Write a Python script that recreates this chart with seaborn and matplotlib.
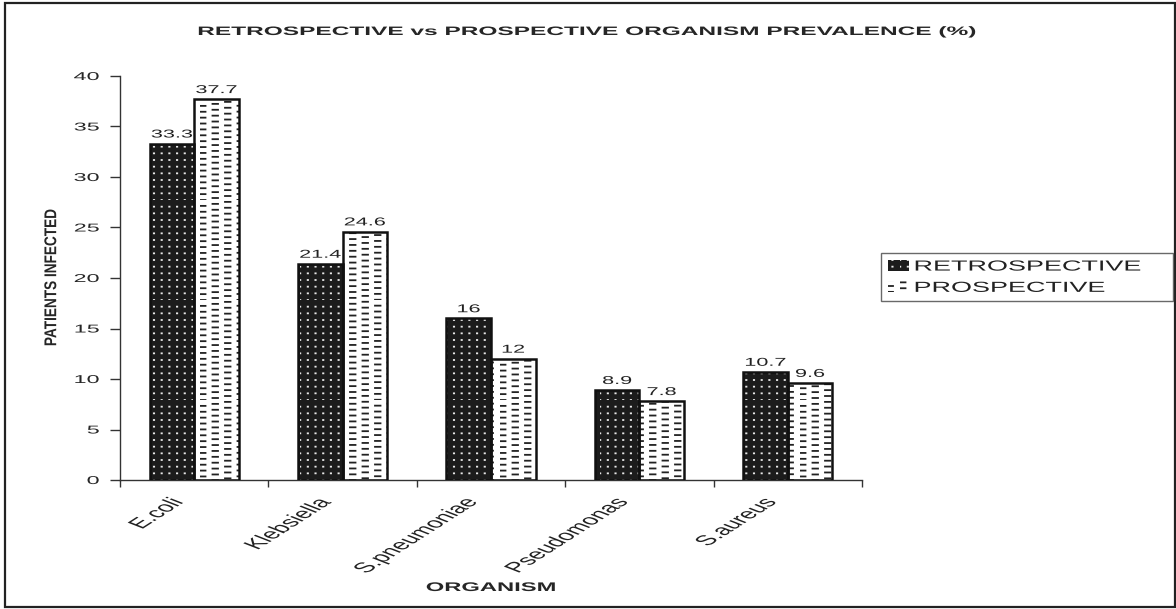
import matplotlib
matplotlib.use("Agg")
import matplotlib.pyplot as plt
import matplotlib.hatch as mhatch
from matplotlib.patches import Rectangle, Patch
from matplotlib.patheffects import AbstractPathEffect
from matplotlib.transforms import Affine2D, ScaledTranslation, blended_transform_factory
from matplotlib.path import Path
import numpy as np
import seaborn as sns
import pandas as pd
import warnings

warnings.filterwarnings("ignore")

organisms = ["E.coli", "Klebsiella", "S.pneumoniae", "Pseudomonas", "S.aureus"]
retrospective = [33.3, 21.4, 16, 8.9, 10.7]
prospective = [37.7, 24.6, 12, 7.8, 9.6]
series_names = ["RETROSPECTIVE", "PROSPECTIVE"]
y_ticks = [0, 5, 10, 15, 20, 25, 30, 35, 40]


# ---- custom hatch patterns: 'p' = grid of small dots, 'd' = staggered short dashes
class _SegmentGrid(mhatch.HatchPatternBase):
    char = None
    ncols = 1
    nrows = 1
    seg = 0.01
    stagger = 0.0

    def __init__(self, hatch, density):
        self.active = self.char in hatch
        self.num_vertices = 2 * self.ncols * self.nrows if self.active else 0

    def set_vertices_and_codes(self, vertices, codes):
        k = 0
        for c in range(self.ncols):
            for r in range(self.nrows):
                x = c / self.ncols
                y = ((r + self.stagger * c) % self.nrows) / self.nrows
                vertices[k] = (x, y)
                vertices[k + 1] = (x + self.seg, y)
                codes[k] = Path.MOVETO
                codes[k + 1] = Path.LINETO
                k += 2


class DotGrid(_SegmentGrid):
    char = "p"
    ncols = 13
    nrows = 15
    seg = 0.003
    stagger = 0.0


class DashGrid(_SegmentGrid):
    char = "d"
    ncols = 8
    nrows = 17
    seg = 0.055
    stagger = 0.34


mhatch._hatch_types.append(DotGrid)
mhatch._hatch_types.append(DashGrid)


# ---- path effect that stretches text horizontally (wide lettering of the reference)
class Stretch(AbstractPathEffect):
    def __init__(self, sx=2.0, sy=1.0, fx=0.5, fy=0.0):
        super().__init__()
        self.sx, self.sy, self.fx, self.fy = sx, sy, fx, fy

    def draw_path(self, renderer, gc, tpath, affine, rgbFace=None):
        ext = tpath.get_extents()
        lx = ext.x0 + self.fx * ext.width
        ly = ext.y0 + self.fy * ext.height
        ax_, ay_ = affine.transform((lx, ly))
        new = affine + Affine2D().translate(-ax_, -ay_).scale(self.sx, self.sy).translate(ax_, ay_)
        renderer.draw_path(gc, tpath, new, rgbFace)


sns.set_theme(style="white")
plt.rcParams["font.family"] = ["Liberation Sans", "DejaVu Sans"]
plt.rcParams["hatch.linewidth"] = 1.3

df = pd.DataFrame({
    "organism": organisms * 2,
    "value": retrospective + prospective,
    "series": [series_names[0]] * len(organisms) + [series_names[1]] * len(organisms),
})

fig = plt.figure(figsize=(11.76, 6.09), dpi=100)
ax = fig.add_axes([120 / 1176, 1 - 480 / 609, (862 - 120) / 1176, (480 - 76) / 609])

sns.barplot(data=df, x="organism", y="value", hue="series", ax=ax,
            palette=["#1c1c1c", "#ffffff"], width=0.6, legend=False,
            saturation=1)

styles = {0: ("#1c1c1c", "#e8e8e8", "p"), 1: ("#ffffff", "#222222", "d")}
for i, cont in enumerate(ax.containers):
    face, hcol, hatch = styles[i]
    for p in cont:
        p.set_facecolor(face)
        p.set_edgecolor(hcol)
        p.set_hatch(hatch)
        p.set_linewidth(0)
        ax.add_patch(Rectangle(p.get_xy(), p.get_width(), p.get_height(),
                               fill=False, edgecolor="#111111", linewidth=1.8, zorder=3))
    texts = ax.bar_label(cont, labels=[f"{v:g}" for v in (retrospective if i == 0 else prospective)],
                         fontsize=8.2, padding=3, color="#222222")
    for t in texts:
        t.set_path_effects([Stretch(1.9, 1.0, 0.5, 0.0)])

ax.set_ylim(0, 40)
ax.set_yticks(y_ticks)
ax.set_yticklabels([str(t) for t in y_ticks], fontsize=8.2)
ax.set_xlim(-0.5, len(organisms) - 0.5)
ax.set_xticks(range(len(organisms)))
ax.set_xticklabels([""] * len(organisms))
ax.tick_params(axis="x", length=0)
ax.set_xticks([x - 0.5 for x in range(len(organisms) + 1)], minor=True)
ax.tick_params(axis="x", which="minor", length=5, width=1, color="#333333", direction="out", bottom=True)
ax.tick_params(axis="y", length=7, width=1, color="#333333", direction="out", left=True, pad=8)

for t in ax.get_yticklabels():
    t.set_path_effects([Stretch(2.05, 1.0, 1.0, 0.0)])

# category labels (rotated, wide lettering) placed at the category positions
lab_tr = blended_transform_factory(ax.transData, ax.transAxes) + \
    ScaledTranslation(-8 / 100, -24 / 100, fig.dpi_scale_trans)
for i, name in enumerate(organisms):
    t = ax.text(i, 0, name, transform=lab_tr, rotation=52, ha="right", va="bottom",
                rotation_mode="anchor", fontsize=10.2, color="#222222")
    t.set_path_effects([Stretch(2.0, 1.0, 1.0, 0.0)])

for s in ["top", "right"]:
    ax.spines[s].set_visible(False)
for s in ["left", "bottom"]:
    ax.spines[s].set_color("#333333")
    ax.spines[s].set_linewidth(1)

xl = ax.set_xlabel("ORGANISM", fontsize=9, fontweight="bold")
ax.xaxis.set_label_coords(0.5, -(591 - 480) / 404)
xl.set_va("baseline")
xl.set_path_effects([Stretch(1.9, 1.0, 0.5, 0.0)])

yl = ax.set_ylabel("PATIENTS INFECTED", fontsize=9.8, fontweight="bold")
ax.yaxis.set_label_coords(-(120 - 58) / 742, 0.5)
yl.set_path_effects([Stretch(1.25, 1.0, 0.5, 0.5)])

title = fig.text(0.5, 1 - 35 / 609, "RETROSPECTIVE vs PROSPECTIVE ORGANISM PREVALENCE (%)",
                 ha="center", va="baseline", fontsize=8.8, fontweight="bold")
title.set_path_effects([Stretch(2.0, 1.0, 0.5, 0.0)])

handles = [Patch(facecolor="#1c1c1c", edgecolor="#e8e8e8", hatch="p", linewidth=0),
           Patch(facecolor="white", edgecolor="#222222", hatch="d", linewidth=0)]
leg = fig.legend(handles, series_names, loc="upper left",
                 bbox_to_anchor=(881 / 1176, 1 - 303 / 609, (1173 - 881) / 1176, 50 / 609),
                 mode="expand", fontsize=10.5,
                 frameon=True, fancybox=False, handlelength=1.45, handleheight=0.8,
                 handletextpad=0.4, borderpad=0.45, labelspacing=0.5,
                 borderaxespad=0)
leg.get_frame().set_edgecolor("#444444")
leg.get_frame().set_linewidth(1)
for t in leg.get_texts():
    t.set_path_effects([Stretch(1.85, 1.0, 0.0, 0.0)])
    t.set_color("#222222")

fig.patches.append(Rectangle((5 / 1176, 2 / 609), 1170 / 1176, 604 / 609,
                             transform=fig.transFigure, fill=False,
                             edgecolor="#222222", linewidth=1.6))

fig.savefig("out.png", dpi=100, facecolor="white")
